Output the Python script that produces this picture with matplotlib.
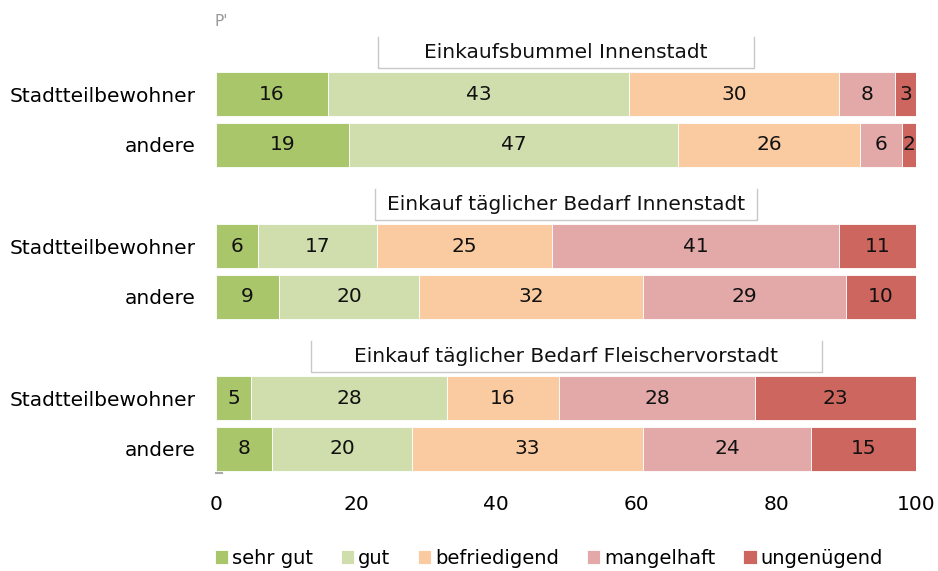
import numpy as np
import matplotlib
matplotlib.use('Agg')
from matplotlib import pyplot as plt

# daten
kategorien = ['sehr gut', 'gut', 'befriedigend', 'mangelhaft', 'ungenügend']
farben = ['#a9c66b', '#cfdeac', '#facba0', '#e3a8a8', '#cc665e']
gruppen = ['Einkaufsbummel Innenstadt',
           'Einkauf täglicher Bedarf Innenstadt',
           'Einkauf täglicher Bedarf Fleischervorstadt']
zeilen = ['Stadtteilbewohner', 'andere']

werte = np.array([
    [16, 43, 30, 8, 3],
    [19, 47, 26, 6, 2],
    [6, 17, 25, 41, 11],
    [9, 20, 32, 29, 10],
    [5, 28, 16, 28, 23],
    [8, 20, 33, 24, 15],
])
xticks = [0, 20, 40, 60, 80, 100]

# halbe breite der titelrahmen (in % der achse)
rahmen_halb = [26.8, 27.3, 36.5]

fig = plt.figure(figsize=(9.38, 5.71), dpi=100)
ax = fig.add_axes([216/938, 1-474/571, 700/938, (474-18)/571])

ypos = []
for g in range(len(gruppen)):
    for z in range(len(zeilen)):
        ypos.append(g*3 + z)
ypos = np.array(ypos)

links = np.zeros(len(ypos))
for k in range(len(kategorien)):
    ax.barh(ypos, werte[:, k], left=links, height=0.87, color=farben[k],
            label=kategorien[k], edgecolor='white', linewidth=0.6)
    for i in range(len(ypos)):
        ax.text(links[i] + werte[i, k]/2, ypos[i], str(werte[i, k]),
                ha='center', va='center', fontsize=14.5, color='#111111')
    links = links + werte[:, k]

# gruppentitel mit rahmen
for g in range(len(gruppen)):
    yt = g*3 - 0.81
    ax.text(50, yt, gruppen[g], ha='center', va='center', fontsize=14.5, color='#111111')
    x0, x1 = 50 - rahmen_halb[g], 50 + rahmen_halb[g]
    ax.plot([x0, x0, x1, x1], [g*3 - 1.12, g*3 - 0.52, g*3 - 0.52, g*3 - 1.12],
            color='#c8c8c8', lw=1, clip_on=False)

ax.set_yticks(ypos)
ax.set_yticklabels(zeilen * len(gruppen), fontsize=14.5)
ax.set_xticks(xticks)
ax.set_xticklabels([str(t) for t in xticks], fontsize=14.5)
ax.tick_params(axis='both', length=0)
ax.tick_params(axis='y', pad=15)
ax.tick_params(axis='x', pad=15)
ax.set_xlim(0, 100)
ax.set_ylim(7.5, -1.5)
for s in ax.spines.values():
    s.set_visible(False)

# kleiner strich unten links
ax.plot([0, 0.9], [7.48, 7.48], color='#aaaaaa', lw=1.5, clip_on=False)

leg = ax.legend(loc='center left', bbox_to_anchor=(-0.013, -0.185), ncol=5,
                frameon=False, handlelength=0.67, handleheight=0.67,
                handletextpad=0.2, columnspacing=1.45, borderaxespad=0,
                prop={'size': 14})

fig.text(214/938, 1-22/571, "P'", fontsize=11, color='#999999', va='center')

plt.savefig('out.png', dpi=100)
